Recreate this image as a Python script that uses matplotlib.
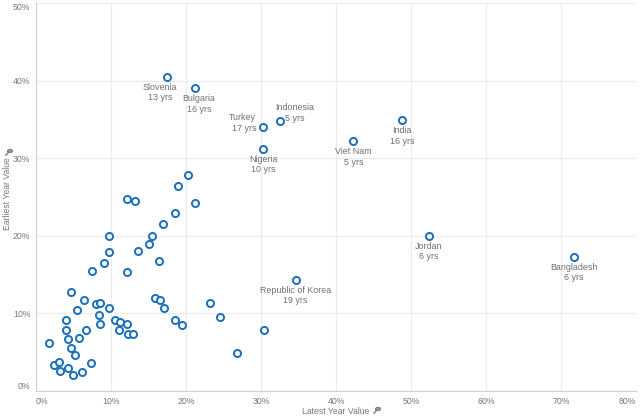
import matplotlib
matplotlib.use("Agg")
import matplotlib.pyplot as plt
from matplotlib.ticker import FuncFormatter
from matplotlib.lines import Line2D
from matplotlib.patches import Circle

# Labelled countries
countries = ["Slovenia", "Bulgaria", "Turkey", "Indonesia", "Nigeria", "Viet Nam",
             "India", "Jordan", "Bangladesh", "Republic of Korea"]
country_latest = [17.5, 21.2, 30.3, 32.5, 30.3, 42.3, 48.8, 52.4, 71.7, 34.6]
country_earliest = [40.5, 39.0, 34.0, 34.8, 31.2, 32.2, 34.9, 20.0, 17.3, 14.3]
country_years = [13, 16, 17, 5, 10, 5, 16, 6, 6, 19]

# Unlabelled points
other_latest = [1.7, 2.4, 3.0, 3.2, 4.3, 4.9, 6.1, 7.3, 4.0, 4.0,
                4.3, 4.6, 5.2, 5.7, 5.4, 4.7, 6.4, 6.7, 7.5, 8.0,
                8.5, 8.4, 8.5, 9.0, 9.7, 9.7, 9.7, 10.5, 11.2, 11.0,
                12.1, 12.3, 12.9, 12.1, 12.1, 13.2, 13.6, 15.1, 15.4, 16.4,
                16.9, 18.5, 18.9, 20.2, 21.2, 15.8, 16.5, 17.0, 18.5, 19.4,
                23.2, 24.5, 26.8, 30.4]
other_earliest = [6.2, 3.4, 3.7, 2.6, 3.0, 2.1, 2.4, 3.6, 9.2, 7.8,
                  6.7, 5.6, 4.7, 6.8, 10.4, 12.8, 11.7, 7.9, 15.5, 11.2,
                  11.4, 9.8, 8.6, 16.5, 17.9, 20.0, 10.7, 9.1, 8.9, 7.8,
                  8.6, 7.3, 7.3, 15.3, 24.8, 24.5, 18.1, 18.9, 20.0, 16.7,
                  21.5, 22.9, 26.4, 27.8, 24.2, 12.0, 11.7, 10.7, 9.1, 8.5,
                  11.3, 9.5, 4.9, 7.9]

x_ticks = [0, 10, 20, 30, 40, 50, 60, 70, 80]
y_ticks = [0, 10, 20, 30, 40, 50]

# label offsets in pixels (dx, dy) and alignment
label_style = {
    "Slovenia": (-7, -6, "center", "top"),
    "Bulgaria": (4, -6, "center", "top"),
    "Turkey": (-7, 4, "right", "center"),
    "Indonesia": (15, 8, "center", "center"),
}

blue = "#1a6fba"
grey_text = "#777777"
label_grey = "#707070"
grid_col = "#ececec"
axis_col = "#d0d0d0"

plt.rcParams["font.family"] = ["Liberation Sans", "DejaVu Sans"]

fig = plt.figure(figsize=(6.4, 4.2), dpi=100)
ax = fig.add_axes([36 / 640, 1 - 391 / 420, 600 / 640, 388 / 420])

ax.scatter(other_latest, other_earliest, s=26, facecolors="white",
           edgecolors=blue, linewidths=1.4, zorder=3)
ax.scatter(country_latest, country_earliest, s=26, facecolors="white",
           edgecolors=blue, linewidths=1.4, zorder=3)

for name, xv, yv, yr in zip(countries, country_latest, country_earliest, country_years):
    dx, dy, ha, va = label_style.get(name, (0, -6, "center", "top"))
    ax.annotate(f"{name}\n{yr} yrs", (xv, yv), xytext=(dx, dy),
                textcoords="offset pixels", ha=ha, va=va, fontsize=6.4,
                color=label_grey, linespacing=1.2, zorder=4)

ax.set_xlim(0, 80)
ax.set_ylim(0, 50)
ax.set_xticks(x_ticks)
ax.set_yticks(y_ticks)
ax.grid(True, color=grid_col, linewidth=0.9, zorder=0)
ax.set_axisbelow(True)
for side in ["top", "right"]:
    ax.spines[side].set_visible(False)
ax.spines["left"].set_color(axis_col)
ax.spines["bottom"].set_color(axis_col)
ax.tick_params(length=0, labelsize=6.3, colors=grey_text, pad=4)
ax.xaxis.set_major_formatter(FuncFormatter(lambda v, p: f"{int(v)}%"))
ax.yaxis.set_major_formatter(FuncFormatter(lambda v, p: f"{int(v)}%"))

# nudge edge tick labels inside like the reference
fig.canvas.draw()
xl = ax.get_xticklabels()
xl[0].set_ha("left")
xl[-1].set_ha("right")
yl = ax.get_yticklabels()
yl[0].set_va("bottom")
yl[-1].set_va("top")

fig.text(336 / 640, 1 - 411 / 420, "Latest Year Value", ha="center", va="center",
         fontsize=6.2, color=grey_text)
fig.text(8 / 640, 1 - 194 / 420, "Earliest Year Value", ha="center", va="center",
         rotation=90, fontsize=6.2, color=grey_text)

# small pin icons
def pin(px, py):
    cx, cy = px / 640, 1 - py / 420
    fig.add_artist(Line2D([cx - 3 / 640, cx], [cy - 3 / 420, cy], transform=fig.transFigure,
                          color="#8a8a8a", linewidth=1.2))
    fig.add_artist(Circle((cx + 1 / 640, cy + 1 / 420), 2.6 / 640, transform=fig.transFigure,
                          facecolor="#9a9a9a", edgecolor="#6f6f6f", linewidth=0.6))

pin(377, 410)
pin(9, 152)

fig.savefig("out.png", dpi=100)
